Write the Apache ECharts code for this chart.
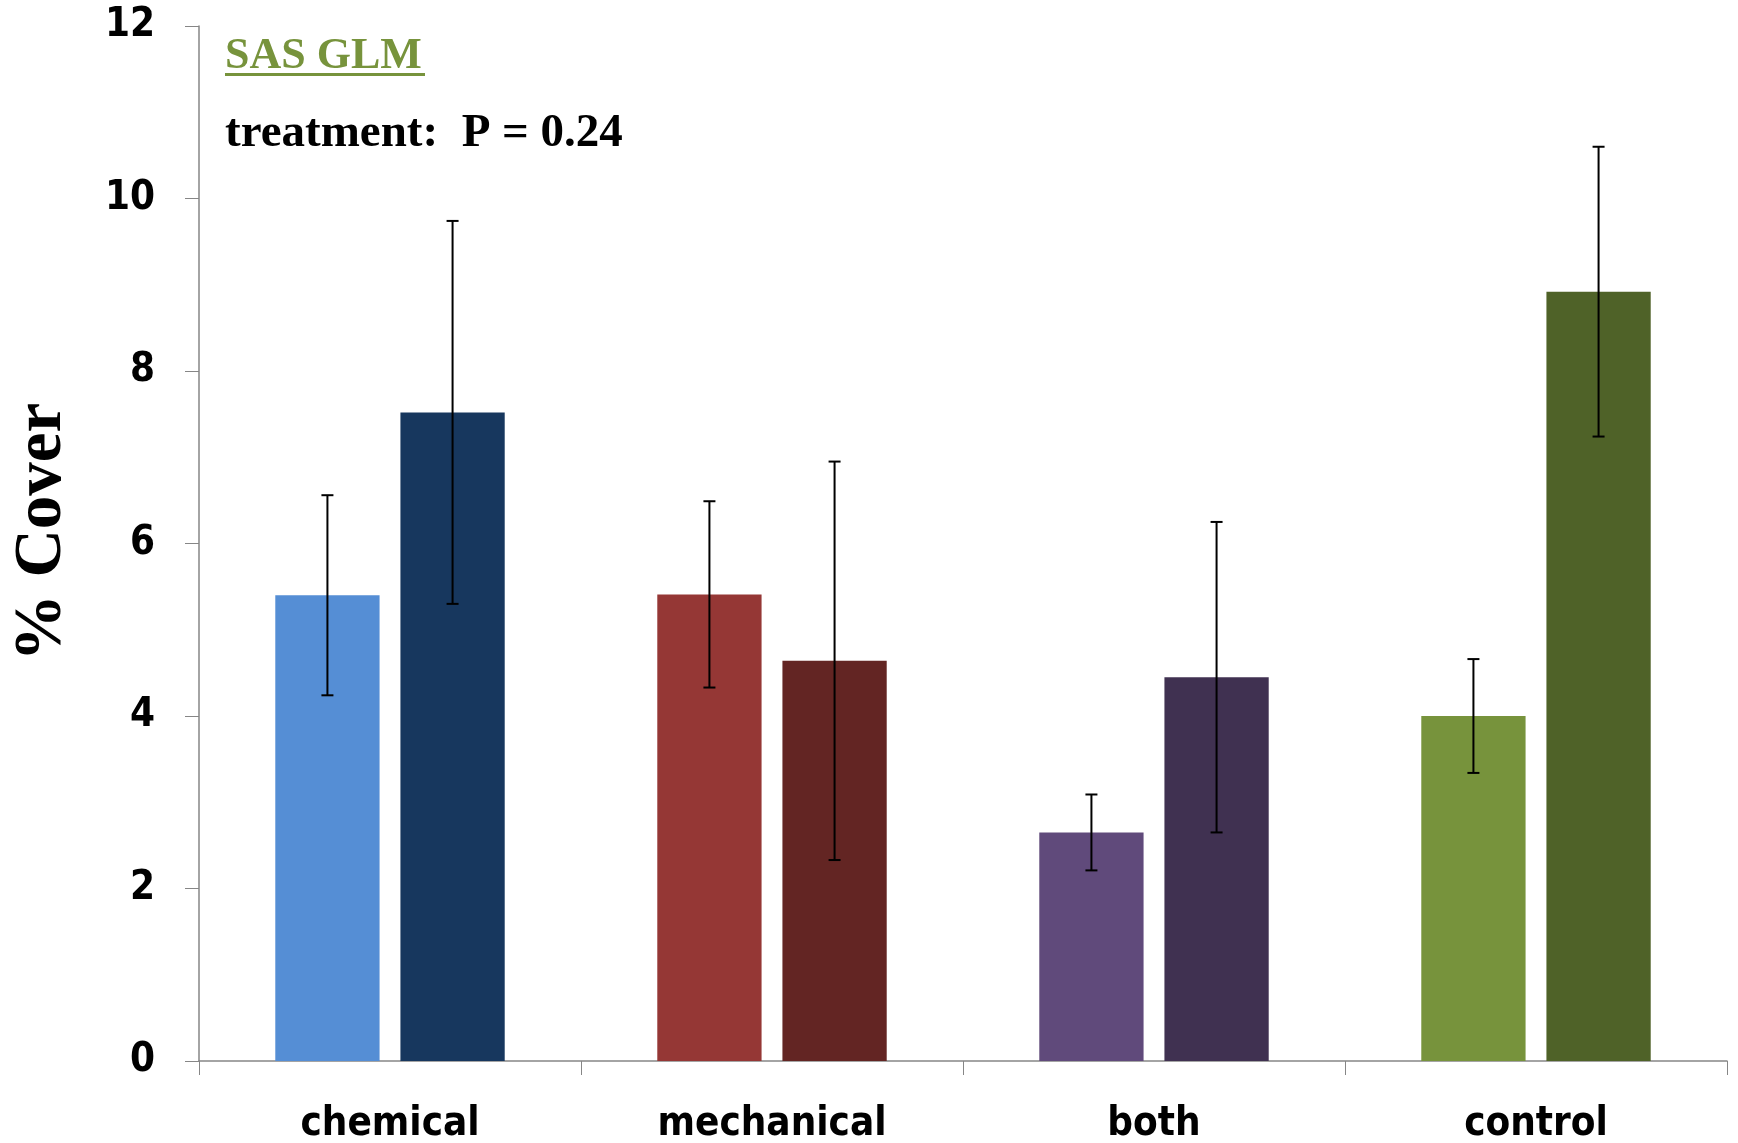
<!DOCTYPE html>
<html>
<head>
<meta charset="utf-8">
<script src="https://cdn.jsdelivr.net/npm/echarts@6/dist/echarts.min.js"></script>
<style>
html,body{margin:0;padding:0;background:#fff;}
#chart{width:1738px;height:1143px;}
</style>
</head>
<body>
<div id="chart"></div>
<script>
// ---- data ----
const categories = ['chemical', 'mechanical', 'both', 'control'];
const meanFirst  = [5.40, 5.41, 2.65, 4.00];
const errFirst   = [1.16, 1.08, 0.44, 0.66];
const meanSecond = [7.52, 4.64, 4.45, 8.92];
const errSecond  = [2.22, 2.31, 1.80, 1.68];
const yTicks = [0, 2, 4, 6, 8, 10, 12];

// ---- styles ----
const colorsFirst  = ['#558ED5', '#953735', '#604A7B', '#77933C'];
const colorsSecond = ['#17375E', '#632523', '#403151', '#4F6228'];
const BAR_W = 0.273, BAR_GAP = 0.2;
const LABEL_FONT = '"DejaVu Sans Condensed", "Liberation Sans Narrow", sans-serif';

const chart = echarts.init(document.getElementById('chart'));

function errRender(sign, errs) {
  return function (params, api) {
    const i = api.value(0);
    const m = api.value(1);
    const e = errs[i];
    const band = api.size([1, 0])[0];
    const off = sign * band * BAR_W * (1 + BAR_GAP) / 2;
    const top = api.coord([i, m + e]);
    const bot = api.coord([i, m - e]);
    const x = top[0] + off;
    const cap = 6;
    const st = { stroke: '#000', lineWidth: 2 };
    return {
      type: 'group',
      children: [
        { type: 'line', shape: { x1: x, y1: top[1], x2: x, y2: bot[1] }, style: st },
        { type: 'line', shape: { x1: x - cap, y1: top[1], x2: x + cap, y2: top[1] }, style: st },
        { type: 'line', shape: { x1: x - cap, y1: bot[1], x2: x + cap, y2: bot[1] }, style: st }
      ]
    };
  };
}

const option = {
  animation: false,
  backgroundColor: '#fff',
  grid: { left: 199, right: 11, top: 26, bottom: 82, containLabel: false, outerBoundsMode: 'none' },
  xAxis: {
    type: 'category',
    data: categories,
    boundaryGap: true,
    axisLine: { lineStyle: { color: '#868686', width: 1.5 } },
    axisTick: { show: true, length: 14, alignWithLabel: false, lineStyle: { color: '#868686' } },
    axisLabel: {
      margin: 44,
      color: '#000',
      fontFamily: LABEL_FONT,
      fontWeight: 'bold',
      fontSize: 40
    }
  },
  yAxis: {
    type: 'value',
    min: 0, max: 12, interval: 2,
    splitLine: { show: false },
    axisLine: { show: true, lineStyle: { color: '#868686', width: 1.5 } },
    axisTick: { show: true, length: 14, lineStyle: { color: '#868686' } },
    axisLabel: {
      margin: 44,
      color: '#000',
      fontFamily: LABEL_FONT,
      fontWeight: 'bold',
      fontSize: 40,
      formatter: v => yTicks.indexOf(v) >= 0 ? String(v) : ''
    }
  },
  graphic: [
    {
      type: 'text', x: 43, y: 532, rotation: Math.PI / 2,
      style: {
        text: '% Cover', fill: '#000',
        font: 'bold 67px "Liberation Serif", "Times New Roman", serif',
        align: 'center', verticalAlign: 'middle'
      }
    },
    {
      type: 'text', left: 225, top: 35,
      style: { text: 'SAS GLM', fill: '#77933C', font: 'bold 44px "Liberation Serif", serif' }
    },
    {
      type: 'rect', left: 225, top: 73,
      shape: { width: 200, height: 3 },
      style: { fill: '#77933C' }
    },
    {
      type: 'text', left: 225, top: 110,
      style: { text: 'treatment:  P = 0.24', fill: '#000', font: 'bold 47px "Liberation Serif", serif' }
    }
  ],
  series: [
    {
      type: 'bar',
      data: meanFirst.map((v, i) => ({ value: v, itemStyle: { color: colorsFirst[i] } })),
      barWidth: (BAR_W * 100) + '%',
      barGap: (BAR_GAP * 100) + '%'
    },
    {
      type: 'bar',
      data: meanSecond.map((v, i) => ({ value: v, itemStyle: { color: colorsSecond[i] } })),
      barWidth: (BAR_W * 100) + '%',
      barGap: (BAR_GAP * 100) + '%'
    },
    {
      type: 'custom',
      renderItem: errRender(-1, errFirst),
      data: meanFirst.map((v, i) => [i, v]),
      z: 10
    },
    {
      type: 'custom',
      renderItem: errRender(1, errSecond),
      data: meanSecond.map((v, i) => [i, v]),
      z: 10
    }
  ]
};
chart.setOption(option);
</script>
</body>
</html>
